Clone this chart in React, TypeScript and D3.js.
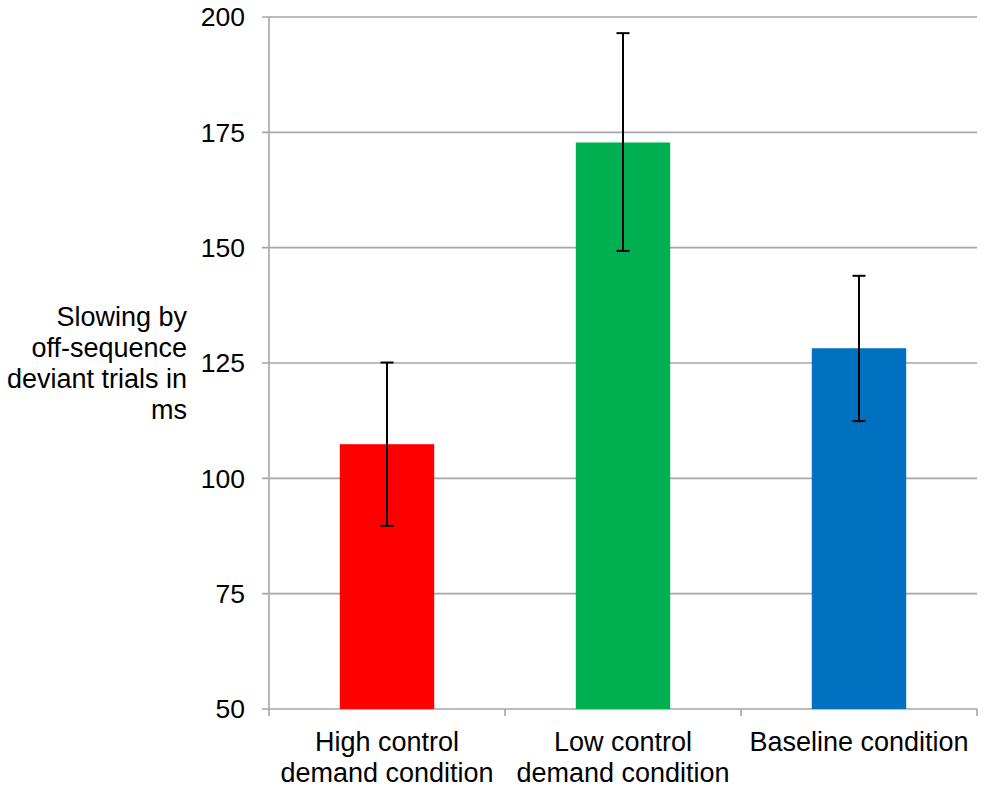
import { scaleBand, scaleLinear } from "d3";

const width = 985;
const height = 789;
const margin = { top: 17, right: 8, bottom: 80, left: 269 };

const categories = ["high", "low", "baseline"];
const categoryLines = [
  ["High control", "demand condition"],
  ["Low control", "demand condition"],
  ["Baseline condition"],
];
const means = [107.4, 172.8, 128.2];
const errLow = [89.7, 149.3, 112.4];
const errHigh = [125.1, 196.5, 143.9];
const colors = ["#ff0000", "#00b050", "#0070c0"];
const yTicks = [50, 75, 100, 125, 150, 175, 200];
const yTitleLines = ["Slowing by", "off-sequence", "deviant trials in", "ms"];

const font = "'Liberation Sans', Arial, sans-serif";
const gray = "#a6a6a6";

const App = () => {
  const innerW = width - margin.left - margin.right;
  const innerH = height - margin.top - margin.bottom;

  const x = scaleBand().domain(categories).range([0, innerW]).paddingInner(0.6).paddingOuter(0.3);
  const band = scaleBand().domain(categories).range([0, innerW]);
  const y = scaleLinear().domain([50, 200]).range([innerH, 0]);

  return (
    <svg
      width={width}
      height={height}
      style={{ position: "absolute", left: 0, top: 0, background: "#fff" }}
      fontFamily={font}
    >
      <g transform={`translate(${margin.left},${margin.top})`}>
        {/* grid + y ticks */}
        {yTicks.map((t) => (
          <g key={t}>
            <line x1={-7} x2={innerW} y1={y(t)} y2={y(t)} stroke={gray} strokeWidth={1.6} />
            <text x={-24} y={y(t)} dy="0.35em" textAnchor="end" fontSize={26.5} fill="#000">
              {t}
            </text>
          </g>
        ))}
        <line x1={0} x2={0} y1={0} y2={innerH} stroke={gray} strokeWidth={1.6} />

        {/* category ticks */}
        {[...categories.map((c) => band(c)!), innerW].map((p, i) => (
          <line key={i} x1={p} x2={p} y1={innerH} y2={innerH + 7} stroke={gray} strokeWidth={1.6} />
        ))}

        {/* bars */}
        {categories.map((c, i) => (
          <rect
            key={c}
            x={x(c)}
            y={y(means[i])}
            width={x.bandwidth()}
            height={innerH - y(means[i])}
            fill={colors[i]}
          />
        ))}

        {/* error bars */}
        {categories.map((c, i) => {
          const cx = x(c)! + x.bandwidth() / 2;
          return (
            <g key={c} stroke="#000" strokeWidth={2}>
              <line x1={cx} x2={cx} y1={y(errHigh[i])} y2={y(errLow[i])} />
              <line x1={cx - 6.5} x2={cx + 6.5} y1={y(errHigh[i])} y2={y(errHigh[i])} />
              <line x1={cx - 6.5} x2={cx + 6.5} y1={y(errLow[i])} y2={y(errLow[i])} />
            </g>
          );
        })}

        {/* category labels */}
        {categories.map((c, i) => (
          <text
            key={c}
            x={band(c)! + band.bandwidth() / 2}
            y={innerH + 42}
            textAnchor="middle"
            fontSize={27}
            fill="#000"
          >
            {categoryLines[i].map((line, j) => (
              <tspan key={j} x={band(c)! + band.bandwidth() / 2} dy={j === 0 ? 0 : 31}>
                {line}
              </tspan>
            ))}
          </text>
        ))}
      </g>

      {/* y title */}
      <text x={187} y={326} textAnchor="end" fontSize={27} fill="#000">
        {yTitleLines.map((line, j) => (
          <tspan key={j} x={187} dy={j === 0 ? 0 : 31}>
            {line}
          </tspan>
        ))}
      </text>
    </svg>
  );
};

export default App;
